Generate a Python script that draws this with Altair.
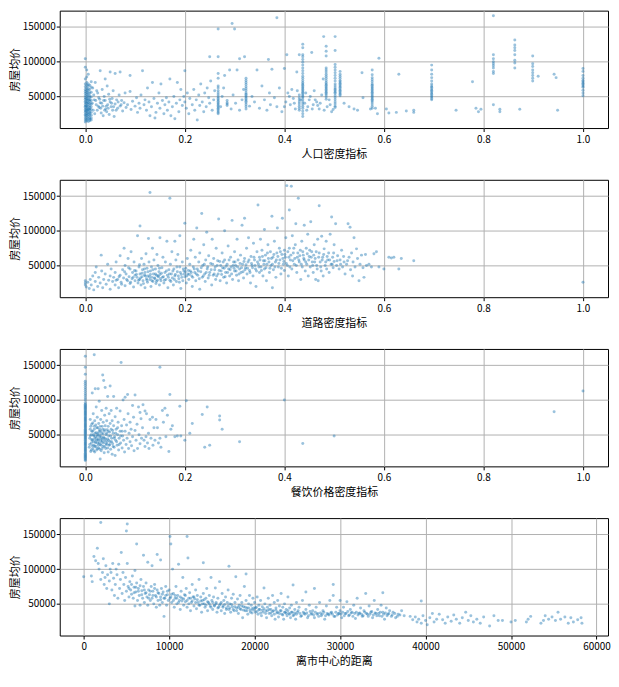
import altair as alt
import pandas as pd

BLUE = "#1f77b4"
FONT = "Noto Sans CJK SC"
Y_TITLE = "房屋均价"
Y_TICKS = [50000, 100000, 150000]
Y_DOMAIN = [4460, 173400]

# ---------------- Panel 1: 人口密度指标 ----------------
pop_col_x = [0.000, 0.003, 0.006, 0.009, 0.012, 0.267, 0.285, 0.323, 0.430, 0.437,
             0.484, 0.502, 0.512, 0.5765, 0.696, 0.82, 0.863, 0.899, 1.0]
pop_col_y = [
    [13000, 16000, 19000, 22000, 24000, 27000, 29000, 31000, 34000, 36000, 38000, 41000,
     43000, 46000, 48000, 51000, 54000, 57000, 60000, 64000, 68000, 75000, 92000, 104000],
    [15000, 17000, 20000, 23000, 25000, 28000, 30000, 32000, 35000, 37000, 40000, 42000,
     45000, 47000, 50000, 53000, 56000, 59000, 62000, 66000, 70000, 78000, 88000],
    [14000, 18000, 21000, 24000, 26000, 29000, 31000, 33000, 36000, 39000, 41000, 44000,
     46000, 49000, 52000, 55000, 58000, 61000, 65000, 68000, 82000],
    [15000, 17000, 19000, 22000, 25000, 27000, 30000, 32000, 34000, 37000, 40000, 43000,
     45000, 48000, 51000, 55000, 60000, 66000],
    [16000, 19000, 23000, 27000, 31000, 35000, 39000, 44000, 49000, 56000, 63000, 71000],
    [147000, 107000, 83000, 76000, 65000, 62000, 58000, 55000, 52000, 49000, 47000, 45000,
     43000, 41000, 39000, 37000, 35000, 33000, 31000, 29000, 27000, 25000],
    [44000, 41000, 39000, 37000],
    [76000, 73000, 70000, 67000, 64000, 61000, 58000, 55000, 53000, 51000, 49000, 47000,
     45000, 43000, 41000, 38000, 35000, 32000],
    [52000, 48000, 45000, 42000, 39000, 36000, 33000, 30000],
    [125000, 120000, 110000, 107000, 103000, 99000, 95000, 91000, 87000, 83000, 79000, 76000,
     73000, 70000, 68000, 66000, 64000, 62000, 60000, 58000, 56000, 54000, 52000, 50000,
     48000, 45000, 42000, 39000, 36000, 33000, 29000, 25000, 21000],
    [122000, 115000, 108000, 91000, 88000, 85000, 82000, 79000, 76000, 73000, 70000, 68000,
     66000, 64000, 62000, 60000, 58000, 56000, 54000, 52000, 49000, 46000],
    [136000, 116000, 96000, 92000, 88000, 84000, 80000, 76000, 72000, 68000, 65000, 62000,
     60000, 58000, 56000, 54000, 51000, 48000, 45000, 42000, 39000, 36000, 34000],
    [86000, 82000, 79000, 76000, 73000, 71000, 69000, 67000, 65000, 63000, 61000, 59000,
     57000, 55000, 53000, 51000],
    [88000, 81000, 77000, 74000, 71000, 68000, 66000, 64000, 62000, 60000, 58000, 56000,
     54000, 52000, 50000, 48000, 46000, 44000, 42000, 39000, 36000, 33000],
    [95000, 88000, 82000, 77000, 72000, 68000, 65000, 63000, 61000, 59000, 57000, 55000,
     53000, 51000, 49000, 47000, 45000],
    [166000, 110000, 104000, 100000, 97000, 94000, 91000, 86000, 83000, 38000],
    [131000, 124000, 120000, 116000, 110000, 102000, 98000, 91000],
    [108000, 97000, 93000, 88000, 84000, 80000, 76000, 72000],
    [90000, 86000, 80000, 76000, 73000, 71000, 69000, 67000, 65000, 63000, 59000, 55000, 51000],
]
pop_scatter_a = [
    (0.015, 62000), (0.018, 45000), (0.02, 70000), (0.022, 38000), (0.024, 30000), (0.025, 55000),
    (0.027, 48000), (0.028, 34000), (0.03, 87000), (0.03, 41000), (0.032, 26000), (0.034, 60000),
    (0.035, 36000), (0.036, 22000), (0.038, 50000), (0.04, 75000), (0.04, 44000), (0.041, 32000),
    (0.043, 28000), (0.044, 65000), (0.045, 38000), (0.047, 53000), (0.048, 24000), (0.05, 42000),
    (0.05, 85000), (0.052, 35000), (0.054, 47000), (0.055, 30000), (0.056, 58000), (0.058, 21000),
    (0.06, 83000), (0.06, 39000), (0.063, 45000), (0.065, 33000), (0.068, 52000), (0.07, 85000),
    (0.07, 36000), (0.073, 44000), (0.075, 29000), (0.078, 41000), (0.08, 55000), (0.082, 34000),
    (0.085, 38000), (0.09, 80000), (0.09, 57000), (0.092, 31000), (0.095, 43000), (0.1, 36000),
    (0.103, 48000), (0.105, 27000), (0.108, 40000), (0.11, 33000), (0.112, 52000), (0.115, 87000),
    (0.118, 38000), (0.12, 45000), (0.123, 30000), (0.125, 62000), (0.128, 42000), (0.13, 22000),
]
pop_scatter_b = [
    (0.133, 35000), (0.135, 70000), (0.138, 47000), (0.14, 19000), (0.142, 27000), (0.145, 40000),
    (0.148, 55000), (0.15, 33000), (0.152, 68000), (0.155, 44000), (0.158, 25000), (0.16, 38000),
    (0.163, 48000), (0.165, 30000), (0.168, 42000), (0.17, 75000), (0.172, 22000), (0.175, 35000),
    (0.178, 50000), (0.18, 18000), (0.183, 40000), (0.185, 70000), (0.188, 28000), (0.19, 45000),
    (0.192, 60000), (0.195, 37000), (0.198, 50000), (0.2, 87000), (0.2, 42000), (0.203, 33000),
    (0.205, 55000), (0.208, 25000), (0.21, 47000), (0.215, 38000), (0.218, 60000), (0.22, 30000),
    (0.223, 45000), (0.225, 16000), (0.228, 52000), (0.23, 37000), (0.232, 68000), (0.235, 42000),
    (0.238, 28000), (0.24, 55000), (0.243, 35000), (0.245, 62000), (0.248, 48000), (0.25, 107000),
    (0.25, 40000), (0.252, 72000), (0.255, 30000), (0.258, 45000), (0.26, 58000), (0.272, 35000),
    (0.275, 50000), (0.278, 62000), (0.28, 80000), (0.29, 88000), (0.293, 32000), (0.295, 155000),
]
pop_scatter_c = [
    (0.297, 52000), (0.30, 147000), (0.302, 40000), (0.305, 88000), (0.31, 104000), (0.31, 30000),
    (0.315, 45000), (0.318, 60000), (0.32, 107000), (0.33, 36000), (0.335, 50000), (0.34, 42000),
    (0.345, 88000), (0.35, 33000), (0.355, 65000), (0.36, 45000), (0.365, 30000), (0.368, 103000),
    (0.37, 55000), (0.372, 38000), (0.375, 89000), (0.38, 48000), (0.385, 163000), (0.385, 35000),
    (0.39, 62000), (0.395, 28000), (0.40, 90000), (0.405, 110000), (0.41, 50000), (0.415, 60000),
    (0.42, 40000), (0.425, 85000), (0.43, 110000), (0.445, 30000), (0.45, 45000), (0.455, 113000),
    (0.458, 38000), (0.46, 58000), (0.465, 42000), (0.47, 32000), (0.475, 52000), (0.478, 75000),
    (0.479, 136000), (0.49, 45000), (0.495, 28000), (0.52, 40000), (0.53, 35000), (0.54, 32000),
    (0.547, 30000), (0.556, 84000), (0.558, 48000), (0.573, 32000), (0.583, 33000), (0.587, 25000),
    (0.59, 105000), (0.605, 32000), (0.61, 26000), (0.625, 27000), (0.63, 82000), (0.645, 29000),
    (0.66, 30000), (0.66, 27000), (0.745, 30000), (0.778, 71000), (0.785, 33000), (0.79, 28000),
    (0.795, 31500), (0.833, 31500), (0.833, 28000), (0.873, 31500), (0.91, 79000), (0.942, 82000),
    (0.946, 77000), (0.949, 30000),
]
pop_scatter_d = [
    (0.014, 40000), (0.016, 30000), (0.017, 52000), (0.019, 25000), (0.021, 44000), (0.023, 58000),
    (0.026, 36000), (0.029, 46000), (0.031, 33000), (0.033, 40000), (0.037, 44000), (0.039, 30000),
    (0.042, 36000), (0.046, 33000), (0.049, 46000), (0.053, 40000), (0.057, 35000), (0.062, 30000),
    (0.066, 42000), (0.072, 38000), (0.4, 35000), (0.403, 42000), (0.407, 55000), (0.412, 38000),
    (0.418, 47000), (0.422, 32000), (0.426, 58000), (0.433, 45000), (0.441, 40000), (0.443, 55000),
    (0.447, 35000), (0.452, 50000), (0.456, 32000), (0.462, 45000), (0.467, 37000), (0.472, 40000),
    (0.48, 30000), (0.486, 35000), (0.492, 38000), (0.498, 31000),
]

# ---------------- Panel 2: 道路密度指标 ----------------
road_a = [
    (0.0, 22000), (0.0, 25000), (0.0, 28000), (0.002, 19000), (0.005, 26000), (0.008, 17000),
    (0.01, 30000), (0.012, 22000), (0.015, 35000), (0.017, 15000), (0.02, 40000), (0.02, 27000),
    (0.022, 48000), (0.025, 20000), (0.027, 33000), (0.03, 25000), (0.032, 65000), (0.033, 42000),
    (0.035, 18000), (0.037, 30000), (0.04, 38000), (0.042, 23000), (0.045, 52000), (0.047, 29000),
    (0.05, 35000), (0.05, 16000), (0.052, 45000), (0.055, 27000), (0.057, 33000), (0.06, 22000),
    (0.06, 40000), (0.062, 55000), (0.065, 30000), (0.067, 18000), (0.07, 36000), (0.07, 64000),
    (0.072, 26000), (0.075, 44000), (0.077, 32000), (0.078, 75000), (0.08, 21000), (0.08, 50000),
    (0.082, 38000), (0.085, 28000), (0.086, 60000), (0.088, 34000), (0.09, 24000), (0.09, 45000),
    (0.092, 70000), (0.094, 31000), (0.095, 40000), (0.097, 19000), (0.098, 55000), (0.1, 36000),
    (0.1, 28000),
]
road_b = [
    (0.102, 42000), (0.104, 33000), (0.105, 93000), (0.106, 25000), (0.108, 48000), (0.109, 30000),
    (0.11, 107000), (0.11, 38000), (0.112, 22000), (0.113, 60000), (0.114, 34000), (0.115, 44000),
    (0.116, 28000), (0.118, 52000), (0.119, 36000), (0.12, 18000), (0.12, 40000), (0.122, 67000),
    (0.123, 31000), (0.124, 46000), (0.125, 26000), (0.126, 35000), (0.127, 89000), (0.128, 55000),
    (0.13, 155000), (0.13, 30000), (0.131, 42000), (0.132, 20000), (0.133, 48000), (0.134, 33000),
    (0.135, 75000), (0.136, 27000), (0.137, 38000), (0.138, 58000), (0.14, 31000), (0.141, 45000),
    (0.142, 24000), (0.143, 36000), (0.144, 66000), (0.145, 29000), (0.146, 50000), (0.147, 34000),
    (0.148, 41000), (0.149, 22000), (0.15, 90000), (0.15, 37000), (0.152, 28000), (0.154, 47000),
    (0.155, 33000), (0.156, 62000), (0.158, 25000), (0.16, 40000), (0.161, 55000), (0.162, 30000),
    (0.164, 85000), (0.165, 36000), (0.166, 18000), (0.168, 44000), (0.17, 147000), (0.17, 29000),
    (0.171, 52000), (0.173, 38000), (0.174, 70000), (0.175, 32000), (0.177, 22000), (0.178, 45000),
    (0.18, 85000), (0.18, 35000), (0.182, 58000), (0.183, 27000), (0.185, 41000), (0.186, 66000),
    (0.188, 31000), (0.19, 93000), (0.19, 48000), (0.192, 17000), (0.193, 37000), (0.195, 55000),
    (0.196, 28000), (0.198, 42000), (0.2, 111000), (0.2, 34000),
]
road_c = [
    (0.202, 46000), (0.203, 25000), (0.205, 60000), (0.206, 38000), (0.208, 30000), (0.21, 52000),
    (0.211, 42000), (0.212, 72000), (0.214, 35000), (0.215, 20000), (0.217, 48000), (0.218, 88000),
    (0.22, 40000), (0.221, 62000), (0.222, 28000), (0.224, 104000), (0.225, 45000), (0.226, 36000),
    (0.228, 55000), (0.23, 16000), (0.23, 68000), (0.232, 41000), (0.234, 125000), (0.235, 33000),
    (0.236, 50000), (0.238, 80000), (0.24, 38000), (0.241, 27000), (0.242, 58000), (0.244, 98000),
    (0.245, 45000), (0.247, 32000), (0.248, 64000), (0.25, 40000), (0.252, 53000), (0.254, 22000),
    (0.255, 88000), (0.257, 36000), (0.258, 60000), (0.26, 44000), (0.262, 30000), (0.263, 75000),
    (0.265, 50000), (0.267, 38000), (0.268, 117000), (0.27, 56000), (0.271, 28000), (0.273, 42000),
    (0.275, 68000), (0.276, 47000), (0.278, 33000), (0.28, 100000), (0.28, 58000), (0.282, 40000),
    (0.284, 25000), (0.285, 52000), (0.287, 78000), (0.288, 45000), (0.29, 35000), (0.292, 62000),
    (0.293, 48000), (0.295, 115000), (0.296, 30000), (0.298, 55000), (0.3, 42000), (0.3, 70000),
]
road_d = [
    (0.302, 50000), (0.304, 36000), (0.305, 88000), (0.307, 58000), (0.308, 28000), (0.31, 45000),
    (0.312, 65000), (0.313, 40000), (0.315, 108000), (0.316, 52000), (0.318, 32000), (0.32, 118000),
    (0.32, 60000), (0.322, 47000), (0.324, 75000), (0.325, 38000), (0.327, 55000), (0.328, 90000),
    (0.33, 43000), (0.332, 25000), (0.333, 63000), (0.335, 50000), (0.337, 35000), (0.338, 82000),
    (0.34, 58000), (0.342, 45000), (0.343, 20000), (0.345, 70000), (0.347, 137000), (0.348, 52000),
    (0.35, 40000), (0.35, 62000), (0.352, 88000), (0.353, 48000), (0.355, 72000), (0.357, 35000),
    (0.358, 57000), (0.36, 102000), (0.36, 45000), (0.362, 65000), (0.364, 28000), (0.365, 52000),
    (0.367, 80000), (0.368, 60000), (0.37, 40000), (0.372, 70000), (0.373, 50000), (0.375, 121000),
    (0.376, 18000), (0.377, 62000), (0.378, 44000), (0.38, 85000), (0.382, 55000), (0.383, 33000),
    (0.385, 68000), (0.386, 104000), (0.388, 48000), (0.39, 75000), (0.391, 58000), (0.393, 38000),
    (0.395, 66000), (0.396, 118000), (0.398, 52000), (0.4, 72000), (0.4, 43000),
]
road_e = [
    (0.402, 62000), (0.403, 90000), (0.405, 165000), (0.406, 50000), (0.408, 35000), (0.41, 75000),
    (0.41, 130000), (0.412, 58000), (0.414, 164000), (0.415, 45000), (0.416, 93000), (0.418, 68000),
    (0.42, 52000), (0.422, 80000), (0.423, 110000), (0.425, 40000), (0.426, 62000), (0.428, 147000),
    (0.43, 55000), (0.432, 72000), (0.433, 30000), (0.435, 85000), (0.436, 48000), (0.438, 65000),
    (0.44, 108000), (0.44, 58000), (0.442, 42000), (0.444, 75000), (0.445, 52000), (0.447, 95000),
    (0.448, 35000), (0.45, 63000), (0.452, 48000), (0.453, 113000), (0.455, 70000), (0.456, 55000),
    (0.458, 40000), (0.46, 80000), (0.462, 60000), (0.463, 30000), (0.465, 50000), (0.466, 45000),
    (0.467, 88000), (0.468, 28000), (0.47, 136000), (0.47, 68000), (0.472, 55000), (0.474, 42000),
    (0.475, 92000), (0.477, 62000), (0.478, 35000), (0.48, 74000), (0.482, 50000), (0.484, 85000),
    (0.485, 45000), (0.487, 58000), (0.489, 68000), (0.49, 40000), (0.492, 95000), (0.494, 52000),
    (0.495, 120000), (0.497, 62000), (0.498, 47000), (0.5, 80000), (0.5, 56000),
]
road_f = [
    (0.503, 110000), (0.505, 50000), (0.507, 64000), (0.51, 45000), (0.512, 58000), (0.515, 72000),
    (0.517, 48000), (0.52, 55000), (0.522, 38000), (0.525, 52000), (0.528, 110000), (0.53, 62000),
    (0.532, 105000), (0.533, 44000), (0.535, 68000), (0.537, 35000), (0.54, 90000), (0.542, 48000),
    (0.545, 74000), (0.547, 60000), (0.55, 28000), (0.552, 52000), (0.555, 65000), (0.558, 47000),
    (0.56, 33000), (0.563, 66000), (0.565, 50000), (0.57, 52000), (0.575, 48000), (0.58, 67000),
    (0.585, 70000), (0.59, 48000), (0.6, 45000), (0.61, 62000), (0.615, 61000), (0.62, 62000),
    (0.63, 45000), (0.635, 60000), (0.66, 57000), (1.0, 26000),
]
road_g = [
    (0.062, 29000), (0.068, 34000), (0.073, 23000), (0.079, 41000), (0.083, 30000), (0.087, 47000),
    (0.091, 26000), (0.096, 33000), (0.099, 43000), (0.103, 37000), (0.107, 29000), (0.109, 51000),
    (0.111, 32000), (0.114, 39000), (0.117, 24000), (0.119, 45000), (0.121, 35000), (0.124, 29000),
    (0.126, 41000), (0.129, 34000), (0.131, 37000), (0.134, 28000), (0.136, 44000), (0.139, 32000),
    (0.141, 38000), (0.143, 27000), (0.146, 35000), (0.149, 46000), (0.151, 31000), (0.153, 39000),
    (0.157, 34000), (0.159, 29000), (0.163, 42000), (0.167, 33000), (0.169, 38000), (0.172, 27000),
    (0.176, 42000), (0.179, 30000), (0.181, 37000), (0.184, 48000), (0.187, 35000), (0.189, 26000),
    (0.191, 40000), (0.194, 33000), (0.197, 45000), (0.199, 38000), (0.201, 41000), (0.204, 35000),
    (0.207, 43000), (0.209, 37000), (0.213, 40000), (0.216, 33000), (0.219, 45000), (0.223, 38000),
    (0.227, 42000), (0.229, 31000), (0.233, 47000), (0.237, 35000), (0.239, 52000), (0.243, 40000),
    (0.246, 48000), (0.249, 36000), (0.253, 44000), (0.256, 52000), (0.259, 38000), (0.261, 48000),
    (0.264, 35000), (0.266, 57000), (0.269, 43000), (0.272, 50000), (0.274, 37000), (0.277, 55000),
    (0.279, 46000), (0.281, 34000), (0.283, 49000), (0.286, 40000), (0.289, 58000), (0.291, 44000),
]
road_h = [
    (0.294, 38000), (0.297, 50000), (0.299, 46000), (0.301, 55000), (0.303, 42000), (0.306, 48000),
    (0.309, 38000), (0.311, 53000), (0.314, 47000), (0.317, 41000), (0.319, 56000), (0.321, 44000),
    (0.323, 51000), (0.326, 46000), (0.329, 58000), (0.331, 40000), (0.334, 53000), (0.336, 47000),
    (0.339, 62000), (0.341, 50000), (0.344, 42000), (0.346, 55000), (0.349, 48000), (0.351, 58000),
    (0.354, 43000), (0.356, 63000), (0.359, 52000), (0.361, 57000), (0.363, 47000), (0.366, 68000),
    (0.369, 55000), (0.371, 46000), (0.374, 60000), (0.376, 52000), (0.379, 66000), (0.381, 48000),
    (0.384, 58000), (0.387, 63000), (0.389, 53000), (0.392, 70000), (0.394, 46000), (0.397, 60000),
    (0.399, 56000), (0.401, 66000), (0.404, 53000), (0.407, 70000), (0.409, 62000), (0.411, 48000),
    (0.413, 65000), (0.417, 57000), (0.419, 75000), (0.421, 60000), (0.424, 50000), (0.427, 68000),
    (0.429, 58000), (0.431, 64000), (0.434, 52000), (0.437, 70000), (0.439, 60000), (0.443, 55000),
    (0.446, 67000), (0.449, 58000), (0.451, 72000), (0.454, 62000), (0.457, 50000), (0.459, 65000),
    (0.461, 55000), (0.464, 70000), (0.469, 62000), (0.473, 48000), (0.476, 58000), (0.479, 66000),
    (0.483, 55000), (0.486, 63000), (0.491, 58000), (0.496, 52000), (0.499, 68000), (0.506, 57000),
    (0.513, 52000), (0.519, 63000), (0.527, 57000), (0.538, 55000),
]

# ---------------- Panel 3: 餐饮价格密度指标 ----------------
food_zero_y = [13000, 14500, 16000, 17500, 19000, 20500, 22000, 23500, 25000, 26500, 28000,
               29500, 31000, 32500, 34000, 35500, 37000, 38500, 40000, 41500, 43000, 44500,
               46000, 47500, 49000, 50500, 52000, 53500, 55000, 56500, 58000, 59500, 61000,
               62500, 64000, 65500, 67000, 68500, 70000, 71500, 73000, 74500, 76000, 77500,
               79000, 80500, 82000, 83500, 85000, 86500, 88000, 89500, 91000, 92500, 94000,
               96000, 100000, 103000, 106000, 109000, 112000, 115000, 118000, 121000, 124000,
               127000, 137000, 147000, 163000]
food_a = [
    (0.008, 32000), (0.009, 45000), (0.01, 58000), (0.01, 72000), (0.011, 26000), (0.012, 38000),
    (0.012, 50000), (0.013, 65000), (0.014, 110000), (0.014, 42000), (0.015, 30000), (0.015, 55000),
    (0.016, 80000), (0.017, 35000), (0.017, 48000), (0.018, 165000), (0.018, 62000), (0.019, 25000),
    (0.019, 70000), (0.02, 40000), (0.02, 52000), (0.02, 116000), (0.021, 33000), (0.022, 45000),
    (0.022, 90000), (0.023, 60000), (0.023, 28000), (0.024, 75000), (0.025, 38000), (0.025, 50000),
    (0.026, 116000), (0.026, 42000), (0.027, 66000), (0.027, 31000), (0.028, 55000), (0.028, 98000),
    (0.029, 47000), (0.03, 15000), (0.03, 36000), (0.03, 62000), (0.031, 72000), (0.032, 44000),
    (0.032, 27000), (0.033, 52000), (0.033, 85000), (0.034, 39000), (0.035, 58000), (0.035, 136000),
    (0.036, 33000), (0.036, 68000), (0.037, 128000), (0.037, 46000), (0.038, 24000), (0.038, 55000),
    (0.039, 78000), (0.04, 118000), (0.04, 41000), (0.04, 63000),
]
food_b = [
    (0.041, 30000), (0.042, 50000), (0.042, 88000), (0.043, 36000), (0.043, 70000), (0.044, 57000),
    (0.045, 44000), (0.045, 105000), (0.046, 25000), (0.046, 62000), (0.047, 48000), (0.048, 35000),
    (0.048, 80000), (0.049, 54000), (0.05, 120000), (0.05, 40000), (0.05, 66000), (0.051, 29000),
    (0.052, 58000), (0.052, 85000), (0.053, 45000), (0.054, 22000), (0.054, 70000), (0.055, 37000),
    (0.056, 52000), (0.057, 105000), (0.057, 63000), (0.058, 32000), (0.059, 47000), (0.06, 76000),
    (0.06, 20000), (0.061, 42000), (0.062, 58000), (0.063, 88000), (0.064, 35000), (0.065, 50000),
    (0.066, 68000), (0.067, 28000), (0.068, 45000), (0.07, 84000), (0.07, 55000), (0.071, 38000),
    (0.072, 154000), (0.073, 63000), (0.074, 31000), (0.075, 48000), (0.076, 100000), (0.077, 42000),
    (0.078, 72000), (0.079, 25000), (0.08, 104000), (0.08, 55000), (0.082, 36000), (0.083, 64000),
    (0.084, 45000), (0.085, 108000), (0.086, 80000), (0.087, 30000), (0.088, 52000), (0.09, 40000),
    (0.09, 68000), (0.092, 58000), (0.093, 34000), (0.095, 92000), (0.095, 47000), (0.097, 75000),
    (0.098, 27000), (0.1, 56000), (0.1, 107000),
]
food_c = [
    (0.102, 42000), (0.104, 65000), (0.105, 30000), (0.107, 90000), (0.108, 50000), (0.11, 82000),
    (0.11, 37000), (0.112, 73000), (0.113, 45000), (0.115, 60000), (0.116, 93000), (0.118, 42000),
    (0.12, 84000), (0.12, 33000), (0.122, 47000), (0.123, 80000), (0.125, 38000), (0.127, 52000),
    (0.128, 30000), (0.13, 72000), (0.132, 45000), (0.135, 75000), (0.136, 35000), (0.138, 60000),
    (0.14, 42000), (0.142, 72000), (0.145, 60000), (0.147, 38000), (0.15, 147000), (0.15, 45000),
    (0.152, 32000), (0.155, 85000), (0.157, 68000), (0.16, 88000), (0.162, 47000), (0.165, 78000),
    (0.168, 26000), (0.17, 108000), (0.172, 58000), (0.175, 63000), (0.18, 47000), (0.185, 48000),
    (0.19, 91000), (0.192, 48000), (0.2, 42000), (0.203, 99000), (0.21, 52000), (0.215, 66000),
    (0.235, 79000), (0.24, 32000), (0.245, 90000), (0.25, 35000), (0.27, 77000), (0.27, 71000),
    (0.275, 58000), (0.31, 40000), (0.4, 100000), (0.437, 37500), (0.5, 48000), (0.942, 83000),
    (1.0, 113000),
]
food_d = [
    (0.009, 36000), (0.01, 48000), (0.011, 62000), (0.012, 28000), (0.013, 43000), (0.013, 55000),
    (0.014, 34000), (0.015, 67000), (0.016, 40000), (0.016, 50000), (0.017, 27000), (0.018, 44000),
    (0.018, 58000), (0.019, 33000), (0.02, 47000), (0.021, 38000), (0.021, 64000), (0.022, 53000),
    (0.023, 42000), (0.024, 30000), (0.024, 48000), (0.025, 60000), (0.026, 35000), (0.026, 52000),
    (0.027, 44000), (0.028, 38000), (0.029, 58000), (0.029, 29000), (0.03, 49000), (0.031, 41000),
    (0.031, 55000), (0.032, 35000), (0.033, 46000), (0.034, 62000), (0.034, 30000), (0.035, 42000),
    (0.036, 51000), (0.037, 38000), (0.038, 45000), (0.039, 33000), (0.039, 57000), (0.041, 44000),
    (0.042, 37000), (0.043, 52000), (0.044, 40000), (0.045, 31000), (0.046, 55000), (0.047, 42000),
    (0.049, 36000), (0.051, 48000), (0.053, 40000), (0.055, 56000), (0.056, 33000), (0.058, 45000),
    (0.061, 52000), (0.063, 40000), (0.065, 60000), (0.068, 36000), (0.071, 48000), (0.074, 55000),
]

# ---------------- Panel 4: 离市中心的距离 ----------------
dist_a = [
    (0, 89000), (900, 90000), (1000, 82000), (1200, 118000), (1400, 112000), (1600, 130000),
    (1700, 108000), (1800, 100000), (2000, 167000), (2000, 85000), (2200, 95000), (2300, 115000),
    (2400, 78000), (2500, 88000), (2600, 105000), (2700, 72000), (2800, 92000), (3000, 50000),
    (3000, 83000), (3100, 100000), (3200, 95000), (3300, 70000), (3400, 108000), (3500, 87000),
    (3600, 62000), (3700, 78000), (3800, 100000), (3900, 92000), (4000, 58000), (4100, 107000),
    (4200, 72000), (4300, 85000), (4400, 124000), (4500, 65000), (4600, 95000), (4700, 78000),
    (4800, 55000), (4900, 88000), (5000, 155000), (5000, 68000), (5100, 165000), (5100, 108000),
    (5200, 75000), (5300, 60000), (5400, 82000), (5500, 70000), (5600, 64000), (5700, 90000),
    (5800, 58000), (5900, 74000), (6000, 47000), (6000, 98000), (6100, 67000), (6200, 136000),
    (6200, 80000), (6300, 55000), (6400, 72000), (6500, 62000), (6600, 48000), (6700, 85000),
    (6800, 69000), (6900, 58000), (7000, 120000), (7000, 75000), (7100, 52000), (7200, 65000),
    (7300, 80000), (7400, 60000), (7500, 110000), (7500, 48000), (7600, 70000), (7700, 63000),
    (7800, 55000), (7900, 75000), (8000, 105000), (8000, 58000), (8100, 68000), (8200, 50000),
    (8300, 78000), (8400, 62000), (8500, 45000), (8600, 121000), (8600, 70000), (8700, 55000),
    (8800, 65000), (8900, 48000), (9000, 113000), (9000, 60000), (9100, 72000), (9200, 52000),
    (9300, 67000), (9400, 32000), (9500, 58000), (9600, 75000), (9700, 48000), (9800, 63000),
    (9900, 55000),
]
dist_b = [
    (10000, 70000), (10100, 147000), (10200, 136000), (10200, 60000), (10300, 52000), (10400, 100000),
    (10500, 65000), (10600, 45000), (10700, 58000), (10800, 75000), (10900, 50000), (11000, 62000),
    (11100, 107000), (11200, 55000), (11300, 42000), (11400, 68000), (11500, 58000), (11600, 88000),
    (11700, 48000), (11800, 63000), (11900, 53000), (12000, 72000), (12100, 147000), (12100, 45000),
    (12200, 116000), (12300, 58000), (12400, 66000), (12500, 40000), (12600, 52000), (12700, 78000),
    (12800, 60000), (12900, 47000), (13000, 57000), (13100, 70000), (13200, 43000), (13300, 62000),
    (13400, 52000), (13500, 85000), (13600, 48000), (13700, 60000), (13800, 38000), (13900, 55000),
    (14000, 109000), (14000, 65000), (14100, 50000), (14200, 45000), (14300, 58000), (14400, 72000),
    (14500, 40000), (14600, 52000), (14700, 62000), (14800, 47000), (14900, 88000), (15000, 55000),
    (15100, 42000), (15200, 60000), (15300, 48000), (15400, 73000), (15500, 52000), (15600, 38000),
    (15700, 58000), (15800, 45000), (15900, 82000), (16000, 50000), (16100, 40000), (16200, 65000),
    (16300, 47000), (16400, 55000), (16500, 36000), (16600, 60000), (16700, 44000), (16800, 52000),
    (16900, 70000), (17000, 104000), (17000, 42000), (17100, 50000), (17200, 38000), (17300, 58000),
    (17400, 46000), (17500, 64000), (17600, 40000), (17700, 52000), (17800, 89000), (17900, 44000),
    (18000, 57000), (18100, 36000), (18200, 48000), (18300, 62000), (18400, 42000), (18500, 52000),
    (18600, 30000), (18700, 46000), (18800, 75000), (18900, 40000), (19000, 93000), (19000, 55000),
    (19100, 44000), (19200, 35000), (19300, 50000), (19400, 62000), (19500, 41000), (19600, 48000),
    (19700, 37000), (19800, 58000), (19900, 44000),
]
dist_c = [
    (20000, 52000), (20100, 38000), (20200, 45000), (20300, 60000), (20400, 35000), (20500, 48000),
    (20600, 42000), (20700, 55000), (20800, 33000), (20900, 46000), (21000, 38000), (21100, 73000),
    (21200, 50000), (21300, 40000), (21400, 30000), (21500, 45000), (21600, 58000), (21700, 36000),
    (21800, 48000), (21900, 42000), (22000, 33000), (22100, 62000), (22200, 40000), (22300, 52000),
    (22400, 28000), (22500, 44000), (22600, 37000), (22700, 55000), (22800, 31000), (22900, 47000),
    (23000, 40000), (23100, 65000), (23200, 35000), (23300, 45000), (23400, 28000), (23500, 50000),
    (23600, 38000), (23700, 42000), (23800, 33000), (23900, 60000), (24000, 36000), (24100, 44000),
    (24200, 30000), (24300, 48000), (24400, 38000), (24500, 77000), (24600, 34000), (24700, 42000),
    (24800, 28000), (24900, 52000), (25000, 38000), (25200, 45000), (25400, 32000), (25600, 55000),
    (25800, 36000), (26000, 67000), (26000, 42000), (26200, 30000), (26400, 48000), (26600, 35000),
    (26800, 40000), (27000, 72000), (27000, 30000), (27200, 45000), (27400, 36000), (27600, 52000),
    (27800, 33000), (28000, 40000), (28200, 28000), (28400, 47000), (28600, 35000), (28800, 55000),
    (29000, 38000), (29200, 62000), (29200, 78000), (29400, 32000), (29600, 45000), (29800, 36000),
    (30000, 40000), (30000, 55000),
]
dist_d = [
    (30200, 30000), (30400, 45000), (30600, 36000), (30800, 53000), (31000, 33000), (31200, 42000),
    (31400, 38000), (31600, 48000), (31800, 29000), (32000, 58000), (32200, 36000), (32400, 44000),
    (32600, 32000), (32800, 40000), (33000, 65000), (33200, 35000), (33400, 47000), (33600, 38000),
    (33800, 30000), (34000, 55000), (34200, 36000), (34400, 42000), (34600, 33000), (34800, 48000),
    (35000, 66000), (35000, 38000), (35200, 28000), (35400, 44000), (35600, 35000), (35800, 40000),
    (36000, 32000), (36200, 38000), (36500, 30000), (36800, 35000), (37200, 40000), (37500, 33000),
    (38200, 32000), (38500, 27000), (38800, 31000), (39000, 24000), (39200, 28000), (39500, 54000),
    (39500, 22000), (39700, 33000), (40000, 26000), (40200, 20000), (40500, 30000), (40800, 36000),
    (41000, 24000), (41300, 28000), (41600, 35000), (42000, 27000), (42300, 22000), (42600, 31000),
    (43000, 25000), (43300, 34000), (43600, 28000), (44000, 22000), (44300, 30000), (44700, 38000),
    (45000, 26000), (45300, 33000), (45600, 24000), (46000, 28000), (46400, 22000), (46800, 31000),
    (47500, 18000), (48000, 33000), (48500, 26000), (49000, 26000), (50000, 24000), (50500, 26000),
    (51800, 24000), (52000, 28000), (52300, 32000), (53500, 22000), (53800, 26000), (54000, 33000),
    (54400, 28000), (54800, 31000), (55200, 26000), (55500, 38000), (55800, 28000), (56300, 31000),
    (56700, 22000), (57000, 30000), (57300, 24000), (57800, 27000), (58200, 30000), (58300, 22000),
]
dist_e = [
    (5300, 72000), (5600, 78000), (5900, 66000), (6100, 74000), (6400, 68000), (6600, 76000),
    (6800, 63000), (7100, 70000), (7300, 66000), (7600, 58000), (7800, 68000), (8100, 62000),
    (8300, 72000), (8500, 60000), (8700, 66000), (9000, 56000), (9200, 64000), (9400, 58000),
    (9600, 62000), (9800, 68000), (10100, 58000), (10300, 64000), (10500, 55000), (10700, 62000),
    (10900, 58000), (11100, 52000), (11300, 60000), (11500, 54000), (11700, 57000), (11900, 62000),
    (12100, 55000), (12300, 50000), (12500, 58000), (12700, 54000), (12900, 60000), (13100, 52000),
    (13300, 56000), (13500, 48000), (13700, 54000), (13900, 50000), (14100, 56000), (14300, 48000),
    (14500, 53000), (14700, 50000), (14900, 45000), (15100, 52000), (15300, 47000), (15500, 50000),
    (15700, 44000), (15900, 48000), (16100, 52000), (16300, 45000), (16500, 49000), (16700, 42000),
    (16900, 47000), (17100, 44000), (17300, 49000), (17500, 42000), (17700, 46000), (17900, 40000),
    (18100, 45000), (18300, 43000), (18500, 47000), (18700, 41000), (18900, 45000), (19100, 40000),
    (19300, 44000), (19500, 38000), (19700, 43000), (19900, 41000),
]
dist_f = [
    (20100, 44000), (20300, 39000), (20500, 42000), (20700, 37000), (20900, 41000), (21100, 43000),
    (21300, 36000), (21500, 40000), (21700, 42000), (21900, 37000), (22100, 39000), (22300, 35000),
    (22500, 41000), (22700, 38000), (22900, 36000), (23100, 40000), (23300, 34000), (23500, 38000),
    (23700, 36000), (23900, 40000), (24100, 35000), (24300, 38000), (24500, 33000), (24700, 37000),
    (24900, 35000), (25100, 40000), (25300, 36000), (25500, 33000), (25700, 38000), (25900, 35000),
    (26100, 37000), (26300, 33000), (26500, 39000), (26700, 36000), (26900, 34000), (27100, 38000),
    (27300, 35000), (27500, 32000), (27700, 37000), (27900, 35000), (28100, 38000), (28300, 33000),
    (28500, 36000), (28700, 34000), (28900, 37000), (29100, 35000), (29300, 32000), (29500, 38000),
    (29700, 34000), (29900, 36000), (30100, 35000), (30300, 38000), (30500, 33000), (30700, 36000),
    (30900, 39000), (31100, 34000), (31300, 37000), (31500, 32000), (31700, 36000), (31900, 38000),
    (32100, 34000), (32300, 37000), (32500, 35000), (32700, 33000), (32900, 38000), (33100, 36000),
    (33300, 32000), (33500, 35000), (33700, 39000), (33900, 34000), (34100, 37000), (34300, 33000),
    (34500, 36000), (34700, 38000), (34900, 32000), (35100, 35000), (35300, 37000), (35500, 33000),
    (35700, 36000), (36100, 34000), (36400, 36000), (36700, 32000), (37000, 34000),
]


def table(*groups):
    xs, ys = [], []
    for g in groups:
        for x, y in g:
            xs.append(x)
            ys.append(y)
    return pd.DataFrame({"x": xs, "y": ys})


pop_cols = [(cx, y) for cx, cys in zip(pop_col_x, pop_col_y) for y in cys]
df1 = table(pop_cols, pop_scatter_a, pop_scatter_b, pop_scatter_c, pop_scatter_d)
df2 = table(road_a, road_b, road_c, road_d, road_e, road_f, road_g, road_h)
df3 = table([(0.0, y) for y in food_zero_y], food_a, food_b, food_c, food_d)
df4 = table(dist_a, dist_b, dist_c, dist_d, dist_e, dist_f)

UNIT_TICKS = [0.0, 0.2, 0.4, 0.6, 0.8, 1.0]
DIST_TICKS = [0, 10000, 20000, 30000, 40000, 50000, 60000]
PLOT_W = 551
PLOT_H = 118


def panel(df, xtitle, xdomain, xticks, fmt):
    return alt.Chart(df).mark_circle(size=9, opacity=0.45, color=BLUE).encode(
        x=alt.X("x:Q", title=xtitle,
                scale=alt.Scale(domain=xdomain, nice=False, zero=False),
                axis=alt.Axis(values=xticks, format=fmt, labelPadding=3, titlePadding=4)),
        y=alt.Y("y:Q", title=Y_TITLE,
                scale=alt.Scale(domain=Y_DOMAIN, nice=False, zero=False),
                axis=alt.Axis(values=Y_TICKS, format="d", labelPadding=1, titlePadding=2)),
    ).properties(width=PLOT_W, height=PLOT_H)


p1 = panel(df1, "人口密度指标", [-0.0513, 1.0503], UNIT_TICKS, ".1f")
p2 = panel(df2, "道路密度指标", [-0.0513, 1.0503], UNIT_TICKS, ".1f")
p3 = panel(df3, "餐饮价格密度指标", [-0.0513, 1.0503], UNIT_TICKS, ".1f")
p4 = panel(df4, "离市中心的距离", [-2800, 61350], DIST_TICKS, "d")

chart = alt.vconcat(p1, p2, p3, p4, spacing=19).properties(
    padding={"left": 0, "top": 0, "right": 0, "bottom": 0}
).configure_view(
    stroke="black", strokeWidth=1
).configure_axis(
    domain=False, grid=True, gridColor="#b0b0b0", gridWidth=1,
    tickColor="black", tickSize=3.5, tickWidth=1,
    labelFont=FONT, labelFontSize=10, labelColor="black",
    titleFont=FONT, titleFontSize=11, titleFontWeight="normal", titleColor="black",
)

chart.save("out.html", embed_options={"renderer": "svg", "actions": False})
